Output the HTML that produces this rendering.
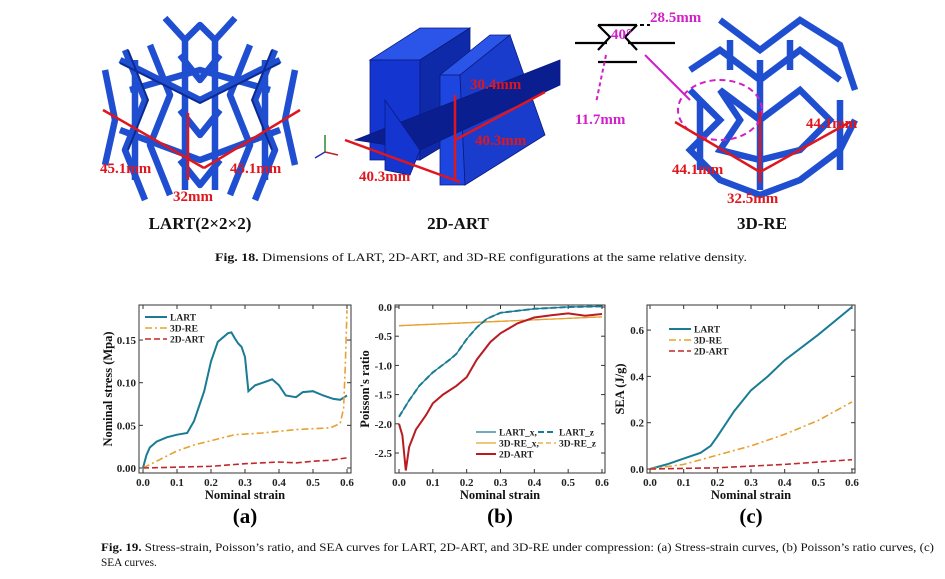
<!DOCTYPE html>
<html><head><meta charset="utf-8"><style>
html,body{margin:0;padding:0;background:#fff;}
svg{display:block;}
text{font-family:"Liberation Serif",serif;}
.tk{font-size:11px;font-weight:bold;fill:#222;}
.ax{font-size:12.5px;font-weight:bold;fill:#111;}
.lg{font-size:9.5px;font-weight:bold;fill:#222;}
.dim{font-size:15px;font-weight:bold;fill:#e0161e;}
.dm{font-size:15px;font-weight:bold;fill:#d020c8;}
.nm{font-size:17px;font-weight:bold;fill:#111;}
.cap{font-size:11.3px;fill:#111;}
</style></head><body>
<svg id="s" width="945" height="579" viewBox="0 0 945 579" xmlns="http://www.w3.org/2000/svg">
<rect width="945" height="579" fill="#fff"/>
<!-- LART lattice -->
<g stroke="#1f4fd0" stroke-width="6.5" fill="none" stroke-linejoin="round">
<path d="M165,18 L185,40 L200,25 L215,40 L235,18"/>
<path d="M125,50 L145,100 L125,150 L145,200 M150,45 L170,95 L150,145 L170,195"/>
<path d="M275,50 L255,100 L275,150 L255,200 M250,45 L230,95 L250,145 L230,195"/>
<path d="M105,70 L115,120 L105,165 M295,70 L285,120 L295,165"/>
<path d="M180,55 L200,80 L220,55 M180,110 L200,135 L220,110 M180,160 L200,185 L220,160"/>
<path d="M120,60 L200,100 L280,60 M120,130 L200,160 L280,130 M130,90 L200,70 L270,90"/>
<path d="M185,40 L185,190 M215,40 L215,190 M135,60 L135,180 M265,60 L265,180"/>
</g>
<g stroke="#0e2a90" stroke-width="2" fill="none">
<path d="M128,50 L148,100 L128,150 M272,50 L252,100 L272,150 M120,63 L200,103 L280,63"/>
</g>
<g stroke="#e0161e" stroke-width="2.5" fill="#e0161e">
<line x1="103" y1="110" x2="204" y2="168"/><line x1="204" y1="168" x2="300" y2="110"/>
<line x1="188" y1="113" x2="188" y2="180"/>
</g>
<text class="dim" x="100" y="173">45.1mm</text>
<text class="dim" x="230" y="173">45.1mm</text>
<text class="dim" x="173" y="201">32mm</text>
<g stroke-width="1.5"><line x1="325" y1="152" x2="325" y2="135" stroke="#2a8a2a"/><line x1="325" y1="152" x2="338" y2="155" stroke="#c02020"/><line x1="325" y1="152" x2="315" y2="158" stroke="#2030c0"/></g>
<!-- 2D-ART -->
<g stroke="#0a1a80" stroke-width="0.8">
<polygon points="370,60 420,28 470,28 420,60" fill="#2a55e8"/>
<polygon points="370,60 420,60 420,160 370,160" fill="#1535d0"/>
<polygon points="420,60 470,28 470,130 420,160" fill="#0e2aa8"/>
<polygon points="440,75 490,35 510,35 460,75" fill="#2a55e8"/>
<polygon points="440,75 460,75 465,185 440,185" fill="#1d45e0"/>
<polygon points="460,75 510,35 545,135 465,185" fill="#1a3ccc"/>
<polygon points="355,140 560,60 560,85 420,150" fill="#0a1e90"/>
<polygon points="385,100 420,150 410,175 385,170" fill="#1535d0"/>
</g>
<g stroke="#e0161e" stroke-width="2.5">
<line x1="345" y1="140" x2="460" y2="182"/><line x1="455" y1="140" x2="545" y2="92"/><line x1="455" y1="180" x2="455" y2="95"/>
</g>
<text class="dim" x="470" y="89">30.4mm</text>
<text class="dim" x="475" y="145">40.3mm</text>
<text class="dim" x="359" y="181">40.3mm</text>
<!-- 3D-RE schematic -->
<g stroke="#000" stroke-width="2.2" fill="none">
<path d="M598,25 L637,25 M598,62 L637,62 M598,25 L610,37 L598,50 M637,25 L625,37 L637,50 M575,43 L607,43 M628,43 L675,43"/>
</g>
<line x1="598" y1="25" x2="650" y2="25" stroke="#000" stroke-width="2" stroke-dasharray="4 3"/>
<text class="dm" x="611" y="39" font-size="13">40°</text>
<text class="dm" x="650" y="22">28.5mm</text>
<text class="dm" x="575" y="124">11.7mm</text>
<line x1="606" y1="55" x2="596" y2="103" stroke="#d020c8" stroke-width="2" stroke-dasharray="4 3"/>
<line x1="645" y1="55" x2="690" y2="100" stroke="#d020c8" stroke-width="2"/>
<g stroke="#1f4fd0" stroke-width="6.5" fill="none">
<path d="M720,20 L760,50 L800,20 L840,45 L855,90 M690,70 L720,50 L760,80 L800,50 L840,80"/>
<path d="M690,90 L720,120 L690,150 L720,180 L760,195 L800,180 L840,150 L855,120"/>
<path d="M720,90 L760,120 L800,90 L830,120 L800,150 L760,160 L720,150 L740,120 Z"/>
<path d="M700,100 L700,170 M840,100 L840,170 M760,60 L760,190 M730,40 L730,70 M790,40 L790,70"/>
</g>
<ellipse cx="720" cy="110" rx="42" ry="30" fill="none" stroke="#d020c8" stroke-width="2" stroke-dasharray="6 4"/>
<g stroke="#e0161e" stroke-width="2.5"><line x1="675" y1="122" x2="760" y2="172"/><line x1="760" y1="172" x2="850" y2="122"/><line x1="760" y1="112" x2="760" y2="183"/></g>
<text class="dim" x="672" y="174">44.1mm</text>
<text class="dim" x="806" y="128">44.1mm</text>
<text class="dim" x="727" y="203">32.5mm</text>
<text class="nm" x="200" y="229" text-anchor="middle">LART(2×2×2)</text>
<text class="nm" x="458" y="229" text-anchor="middle">2D-ART</text>
<text class="nm" x="762" y="229" text-anchor="middle">3D-RE</text>
<text class="cap" x="215" y="261" textLength="532" lengthAdjust="spacingAndGlyphs"><tspan font-weight="bold">Fig. 18.</tspan> Dimensions of LART, 2D-ART, and 3D-RE configurations at the same relative density.</text>
<g id="plots"></g>
<text class="cap" x="101" y="551" textLength="833" lengthAdjust="spacingAndGlyphs"><tspan font-weight="bold">Fig. 19.</tspan> Stress-strain, Poisson’s ratio, and SEA curves for LART, 2D-ART, and 3D-RE under compression: (a) Stress-strain curves, (b) Poisson’s ratio curves, (c)</text>
<text class="cap" x="101" y="566">SEA curves.</text>
<text class="ax" x="245" y="499" text-anchor="middle">Nominal strain</text>
<text class="ax" x="500" y="499" text-anchor="middle">Nominal strain</text>
<text class="ax" x="751" y="499" text-anchor="middle">Nominal strain</text>
<text x="245" y="523" text-anchor="middle" font-size="21" font-weight="bold">(a)</text>
<text x="500" y="523" text-anchor="middle" font-size="21" font-weight="bold">(b)</text>
<text x="751" y="523" text-anchor="middle" font-size="21" font-weight="bold">(c)</text>
<text class="ax" transform="translate(112,389) rotate(-90)" text-anchor="middle">Nominal stress (Mpa)</text>
<text class="ax" transform="translate(369,389) rotate(-90)" text-anchor="middle">Poisson's ratio</text>
<text class="ax" transform="translate(624,389) rotate(-90)" text-anchor="middle">SEA (J/g)</text>
</svg>
<script>
var NS="http://www.w3.org/2000/svg",G=document.getElementById("plots");
function el(t,a,txt){var e=document.createElementNS(NS,t);for(var k in a)e.setAttribute(k,a[k]);if(txt!=null)e.textContent=txt;G.appendChild(e);return e;}
var T="#1a7b95",O="#e8a030",R="#c0282c";
function panel(P){
 el("rect",{x:P.L,y:305,width:P.R-P.L,height:168,fill:"none",stroke:"#333","stroke-width":1});
 for(var i=0;i<=6;i++){var x=P.x0+i*(P.x1-P.x0)/6;
  el("line",{x1:x,y1:473,x2:x,y2:469,stroke:"#333"});el("line",{x1:x,y1:305,x2:x,y2:309,stroke:"#333"});
  el("text",{x:x,y:486,"class":"tk","text-anchor":"middle"},(i/10).toFixed(1));}
 P.yt.forEach(function(v){var y=P.fy(v);
  el("line",{x1:P.L,y1:y,x2:P.L+4,y2:y,stroke:"#333"});el("line",{x1:P.R,y1:y,x2:P.R-4,y2:y,stroke:"#333"});
  el("text",{x:P.L-3,y:y+4,"class":"tk","text-anchor":"end"},P.lab(v));});
 P.s.forEach(function(s){el("polyline",{points:s.p.map(function(q){return (P.x0+q[0]*(P.x1-P.x0)/0.6).toFixed(1)+","+P.fy(q[1]).toFixed(1)}).join(" "),fill:"none",stroke:s.c,"stroke-width":s.w||2,"stroke-dasharray":s.d||"none"});});
}
var DD="7 3 2 3",DS="6 3";
panel({L:139,R:351,x0:143,x1:347,fy:function(v){return 468-v*853},yt:[0,0.05,0.1,0.15],lab:function(v){return v.toFixed(2)},
 s:[{c:T,p:[[0,0],[.01,.015],[.02,.024],[.04,.031],[.07,.036],[.1,.039],[.13,.041],[.15,.055],[.18,.09],[.2,.125],[.22,.148],[.25,.158],[.26,.159],[.27,.152],[.28,.146],[.29,.142],[.3,.13],[.31,.09],[.33,.097],[.36,.101],[.38,.104],[.4,.097],[.42,.085],[.45,.083],[.47,.089],[.5,.09],[.53,.085],[.56,.081],[.58,.08],[.6,.085]]},
  {c:O,d:DD,w:1.6,p:[[0,0],[.05,.01],[.1,.02],[.15,.027],[.2,.032],[.27,.039],[.35,.041],[.45,.045],[.55,.047],[.58,.052],[.59,.07],[.595,.12],[.6,.185]]},
  {c:R,d:DS,w:1.6,p:[[0,0],[.2,.002],[.3,.005],[.4,.007],[.45,.006],[.5,.008],[.55,.009],[.6,.012]]}]});
var lx=[[0,-1.88],[.03,-1.6],[.06,-1.35],[.1,-1.12],[.15,-.9],[.17,-.8],[.2,-.55],[.23,-.35],[.26,-.2],[.3,-.1],[.4,-.03],[.5,0],[.6,.01]];
panel({L:395,R:605,x0:399,x1:602,fy:function(v){return 307-v*58.4},yt:[0,-.5,-1,-1.5,-2,-2.5],lab:function(v){return v.toFixed(1)},
 s:[{c:O,w:1.3,p:[[0,-.32],[.6,-.17]]},{c:O,w:1.3,d:"5 3",p:[[0,-.32],[.6,-.17]]},
  {c:T,w:1.3,p:lx},{c:T,w:2,d:"6 3",p:lx},
  {c:"#b81c22",w:2,p:[[0,-2],[.01,-2.2],[.02,-2.8],[.03,-2.4],[.05,-2.1],[.08,-1.85],[.1,-1.65],[.13,-1.5],[.17,-1.35],[.2,-1.2],[.23,-.9],[.27,-.6],[.3,-.45],[.35,-.28],[.4,-.18],[.45,-.14],[.5,-.11],[.55,-.15],[.6,-.12]]}]});
panel({L:647,R:855,x0:650,x1:852,fy:function(v){return 469-v*231.5},yt:[0,.2,.4,.6],lab:function(v){return v.toFixed(1)},
 s:[{c:T,p:[[0,0],[.05,.02],[.1,.045],[.15,.07],[.18,.1],[.2,.14],[.25,.25],[.3,.34],[.35,.4],[.4,.47],[.5,.58],[.6,.7]]},
  {c:O,d:DD,w:1.6,p:[[0,0],[.1,.02],[.2,.06],[.3,.1],[.4,.15],[.5,.21],[.6,.29]]},
  {c:R,d:DS,w:1.6,p:[[0,0],[.2,.005],[.4,.02],[.6,.04]]}]});
function leg(x,y,c,d,t,w,l){el("line",{x1:x,y1:y,x2:x+(l||22),y2:y,stroke:c,"stroke-width":w||2,"stroke-dasharray":d||"none"});el("text",{x:x+(l||22)+3,y:y+3.5,"class":"lg"},t);}
leg(145,317,T,null,"LART");leg(145,328,O,DD,"3D-RE",1.6);leg(145,339,R,DS,"2D-ART",1.6);
leg(669,329,T,null,"LART");leg(669,340,O,DD,"3D-RE",1.6);leg(669,351,R,DS,"2D-ART",1.6);
leg(476,432,T,null,"LART_x,",1.3,20);leg(538,432,T,"6 3","LART_z",2,18);
leg(476,443,O,null,"3D-RE_x,",1.3,20);leg(538,443,O,"5 3","3D-RE_z",1.3,18);
leg(476,454,"#b81c22",null,"2D-ART",2,20);
</script>
</body></html>
